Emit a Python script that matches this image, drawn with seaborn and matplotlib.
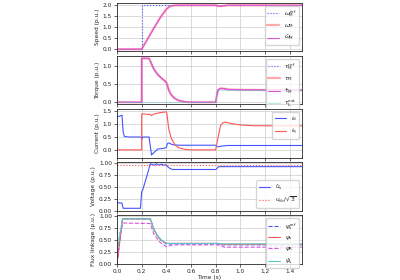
import numpy as np
import pandas as pd
import matplotlib
matplotlib.use("Agg")
import matplotlib.pyplot as plt
import seaborn as sns

# ---------------- data ----------------
t_w_ref = [0.0, 0.2, 0.2, 1.5]
w_ref = [0.0, 0.0, 2.0, 2.0]
t_w = [0.0, 0.2, 0.25, 0.3, 0.35, 0.4, 0.43, 0.46, 0.5, 0.8, 0.81, 0.83, 0.86, 0.9, 1.5]
w_m = [0.0, 0.0, 0.48, 0.97, 1.43, 1.82, 1.95, 1.99, 2.0, 2.0, 1.975, 1.96, 1.97, 2.0, 2.0]

t_tau = [0.0, 0.2, 0.2, 0.26, 0.28, 0.3, 0.33, 0.36, 0.39, 0.4, 0.41, 0.42, 0.44, 0.47,
         0.5, 0.55, 0.6, 0.8, 0.81, 0.82, 0.84, 0.87, 0.9, 1.0, 1.5]
tau_m = [0.0, 0.0, 1.2, 1.2, 1.05, 0.9, 0.76, 0.66, 0.58, 0.54, 0.45, 0.33, 0.2, 0.1,
         0.05, 0.01, 0.0, 0.0, 0.2, 0.34, 0.38, 0.37, 0.35, 0.34, 0.33]
t_tl = [0.0, 0.8, 0.8, 1.5]
tau_l = [0.0, 0.0, 0.33, 0.33]

t_id = [0.0, 0.03, 0.04, 0.05, 0.06, 0.1, 0.2, 0.2, 0.21, 0.26, 0.28, 0.3, 0.33, 0.39,
        0.4, 0.41, 0.42, 0.45, 0.5, 0.8, 0.81, 0.82, 0.85, 0.9, 1.5]
i_d = [1.28, 1.33, 1.35, 0.7, 0.52, 0.5, 0.5, 0.42, 0.5, 0.5, -0.2, -0.1, 0.03, 0.07,
       0.1, 0.25, 0.27, 0.2, 0.18, 0.18, 0.13, 0.12, 0.15, 0.17, 0.17]
t_iq = [0.0, 0.2, 0.2, 0.27, 0.28, 0.3, 0.35, 0.4, 0.405, 0.41, 0.42, 0.44, 0.47, 0.5,
        0.55, 0.6, 0.8, 0.82, 0.84, 0.86, 0.88, 0.92, 1.0, 1.1, 1.5]
i_q = [0.0, 0.0, 1.4, 1.38, 1.33, 1.4, 1.45, 1.48, 1.4, 1.2, 0.8, 0.45, 0.2, 0.08,
       0.02, 0.0, 0.0, 0.5, 0.95, 1.06, 1.08, 1.03, 0.97, 0.94, 0.93]

t_u = [0.0, 0.04, 0.05, 0.19, 0.2, 0.21, 0.25, 0.27, 0.3, 0.32, 0.34, 0.36, 0.38, 0.4,
       0.41, 0.43, 0.45, 0.8, 0.81, 0.82, 0.83, 1.5]
u_s = [0.17, 0.16, 0.05, 0.05, 0.4, 0.45, 0.8, 0.99, 0.96, 0.99, 0.96, 0.98, 0.96, 0.97,
       0.93, 0.89, 0.87, 0.87, 0.89, 0.92, 0.93, 0.93]
t_udc = [0.0, 1.5]
u_dc = [0.955, 0.955]

t_psi = [0.0, 0.045, 0.27, 0.3, 0.33, 0.36, 0.4, 0.82, 0.85, 1.5]
psi_ref = [0.0, 0.95, 0.95, 0.72, 0.58, 0.49, 0.42, 0.42, 0.40, 0.40]
psi_s = [0.0, 0.95, 0.95, 0.72, 0.58, 0.49, 0.43, 0.43, 0.41, 0.41]
psi_hat = [0.25, 0.95, 0.95, 0.72, 0.59, 0.5, 0.43, 0.43, 0.42, 0.42]
t_psir = [0.0, 0.02, 0.05, 0.27, 0.3, 0.35, 0.4, 0.45, 0.82, 0.87, 1.5]
psi_r = [0.0, 0.6, 0.86, 0.85, 0.62, 0.45, 0.36, 0.40, 0.40, 0.35, 0.35]

# ---------------- plot ----------------
sns.set_theme(style="ticks", rc={"axes.grid": True, "grid.color": "#cccccc",
                                 "grid.linewidth": 0.5, "axes.linewidth": 0.6,
                                 "xtick.major.size": 2, "ytick.major.size": 2,
                                 "xtick.major.width": 0.5, "ytick.major.width": 0.5,
                                 "font.size": 4.2, "xtick.labelsize": 4.2,
                                 "ytick.labelsize": 4.2, "axes.labelsize": 4.2,
                                 "legend.fontsize": 4.2})

fig, axes = plt.subplots(5, 1, figsize=(4, 2.8), dpi=100, sharex=True)
fig.subplots_adjust(left=0.2925, right=0.755, top=0.989, bottom=0.058, hspace=0.1)

lw = 0.8
B, R, M, C = "#4455ff", "#ff5555", "#dd55dd", "#55cccc"


def line(ax, x, y, **kw):
    sns.lineplot(x=x, y=y, ax=ax, sort=False, estimator=None, **kw)


ax = axes[0]
line(ax, t_w_ref, w_ref, color=B, ls=":", lw=lw, label=r"$\omega_\mathrm{M}^\mathrm{ref}$")
line(ax, t_w, w_m, color=R, lw=lw * 2, alpha=0.5, label=r"$\omega_\mathrm{M}$")
line(ax, t_w, w_m, color=M, lw=lw, label=r"$\hat{\omega}_\mathrm{M}$")
ax.set_ylim(-0.1, 2.1)
ax.set_yticks([0.0, 0.5, 1.0, 1.5, 2.0])
ax.set_ylabel("Speed (p.u.)")

ax = axes[1]
line(ax, t_tau, tau_m, color=B, ls=":", lw=lw, label=r"$\tau_\mathrm{M}^\mathrm{ref}$")
line(ax, t_tau, tau_m, color=R, lw=lw * 2, alpha=0.5, label=r"$\tau_\mathrm{M}$")
line(ax, t_tau, tau_m, color=M, lw=lw, label=r"$\hat{\tau}_\mathrm{M}$")
line(ax, t_tl, tau_l, color=C, lw=lw, alpha=0.4, label=r"$\tau_\mathrm{L}^\mathrm{ext}$")
ax.set_ylim(-0.06, 1.26)
ax.set_yticks([0.0, 0.5, 1.0])
ax.set_ylabel("Torque (p.u.)")

ax = axes[2]
line(ax, t_id, i_d, color=B, lw=lw, label=r"$i_\mathrm{d}$")
line(ax, t_iq, i_q, color=R, lw=lw, label=r"$i_\mathrm{q}$")
ax.set_ylim(-0.3, 1.58)
ax.set_yticks([0.0, 0.5, 1.0, 1.5])
ax.set_ylabel("Current (p.u.)")

ax = axes[3]
line(ax, t_u, u_s, color=B, lw=lw, label=r"$\hat{u}_\mathrm{s}$")
line(ax, t_udc, u_dc, color=R, ls=":", lw=lw, label=r"$u_\mathrm{dc}/\sqrt{3}$")
ax.set_ylim(0.0, 1.02)
ax.set_yticks([0.0, 0.25, 0.5, 0.75, 1.0])
ax.set_ylabel("Voltage (p.u.)")

ax = axes[4]
line(ax, t_psi, psi_ref, color=B, ls="--", lw=lw, label=r"$\psi_\mathrm{s}^\mathrm{ref}$")
line(ax, t_psi, psi_s, color=R, lw=lw, label=r"$\psi_\mathrm{s}$")
line(ax, t_psir, psi_r, color=M, ls="--", lw=lw, label=r"$\psi_\mathrm{R}$")
line(ax, t_psi, psi_hat, color=C, lw=lw, label=r"$\hat{\psi}_\mathrm{s}$")
ax.set_ylim(0.0, 1.02)
ax.set_yticks([0.0, 0.25, 0.5, 0.75, 1.0])
ax.set_ylabel("Flux linkage (p.u.)")
ax.set_xlabel("Time (s)")
ax.set_xlim(0, 1.5)
ax.set_xticks([0.0, 0.2, 0.4, 0.6, 0.8, 1.0, 1.2, 1.4])

for i, a in enumerate(axes):
    loc = "lower right" if i == 3 else "upper right"
    a.legend(loc=loc, frameon=True, handlelength=2.0, borderpad=0.4,
             labelspacing=0.5, fontsize=4.2)
    a.tick_params(pad=1.5)
    a.yaxis.labelpad = 2
    a.xaxis.labelpad = 1.0

fig.savefig("out.png", dpi=100)
